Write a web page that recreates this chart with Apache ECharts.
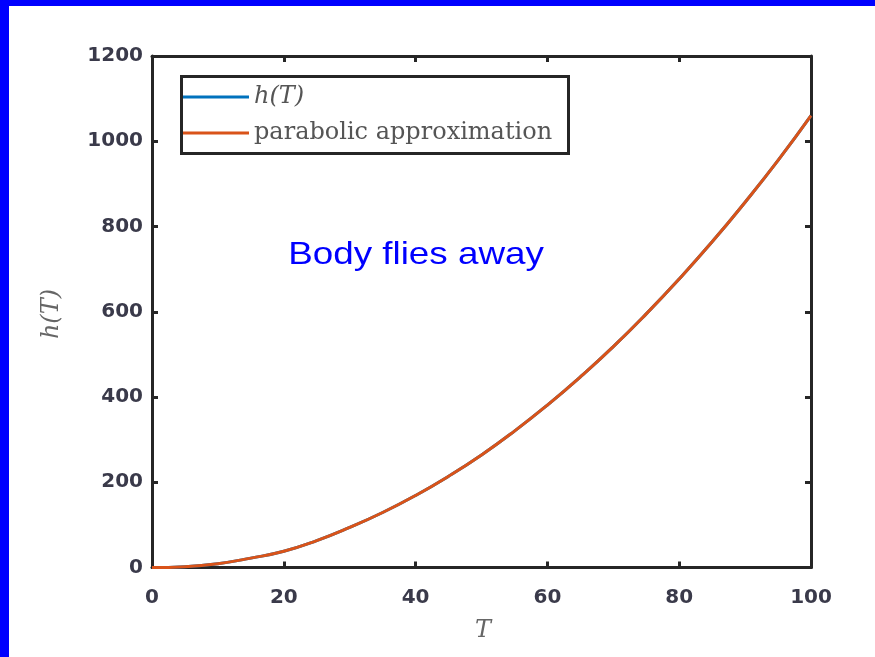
<!DOCTYPE html>
<html>
<head>
<meta charset="utf-8">
<script src="https://cdn.jsdelivr.net/npm/echarts@6/dist/echarts.min.js"></script>
<style>
html,body{margin:0;padding:0;background:#fff;}
#c{width:875px;height:657px;}
</style>
</head>
<body>
<div id="c"></div>
<script>
const T = [0,5,10,15,20,25,30,35,40,45,50,55,60,65,70,75,80,85,90,95,100];
const hT = [0,2,9,22,38,63,94,129,169,214,264,320,381,447,518,595,677,764,857,955,1060];
const parabolic = [0,2,9,22,38,63,94,129,169,214,264,320,381,447,518,595,677,764,857,955,1060];
const xTicks = [0,20,40,60,80,100];
const yTicks = [0,200,400,600,800,1000,1200];
const seriesNames = ['h(T)','parabolic approximation'];

const chart = echarts.init(document.getElementById('c'));
const axisCol = '#262626';
const tickLabel = {fontFamily:'DejaVu Sans', fontWeight:'bold', fontSize:20, color:'#3a3a4a', formatter:function(v){return String(v);}};
function baseX(pos, show){
  return {type:'value', min:xTicks[0], max:xTicks[xTicks.length-1], interval:20, position:pos,
    axisLine:{show:true, onZero:false, lineStyle:{color:axisCol, width:3}},
    axisTick:{show:true, inside:true, length:6, lineStyle:{color:axisCol, width:3}},
    axisLabel:Object.assign({show:show, margin:20}, tickLabel),
    splitLine:{show:false}};
}
function baseY(pos, show){
  return {type:'value', min:yTicks[0], max:yTicks[yTicks.length-1], interval:200, position:pos,
    axisLine:{show:true, onZero:false, lineStyle:{color:axisCol, width:3}},
    axisTick:{show:true, inside:true, length:6, lineStyle:{color:axisCol, width:3}},
    axisLabel:Object.assign({show:show, margin:9}, tickLabel),
    splitLine:{show:false}};
}
chart.setOption({
  animation:false,
  backgroundColor:'#fff',
  grid:{left:152, right:64, top:56, bottom:89.5, containLabel:false},
  xAxis:[baseX('bottom', true), baseX('top', false)],
  yAxis:[baseY('left', true), baseY('right', false)],
  legend:{
    orient:'vertical', left:183, top:85, padding:0, itemGap:12,
    itemWidth:66, itemHeight:3, icon:'rect',
    data:seriesNames,
    formatter: function(n){ return n===seriesNames[0] ? '{i|'+n+'}' : '{n|'+n+'}'; },
    textStyle:{
      color:'#555', padding:[0,0,0,0],
      rich:{
        i:{fontFamily:'DejaVu Serif', fontStyle:'italic', fontSize:24, lineHeight:24, color:'#555'},
        n:{fontFamily:'DejaVu Serif', fontSize:24, lineHeight:24, color:'#555'}
      }
    }
  },
  series:[
    {name:seriesNames[0], type:'line', data:T.map((t,i)=>[t,hT[i]]), showSymbol:false, smooth:true,
      lineStyle:{color:'#0072BD', width:3}, itemStyle:{color:'#0072BD'}, z:3},
    {name:seriesNames[1], type:'line', data:T.map((t,i)=>[t,parabolic[i]]), showSymbol:false, smooth:true,
      lineStyle:{color:'#D95319', width:3}, itemStyle:{color:'#D95319'}, z:4}
  ],
  graphic:[
    {type:'rect', shape:{x:0,y:0,width:875,height:6}, style:{fill:'#0000ff'}, z:100},
    {type:'rect', shape:{x:0,y:0,width:9,height:657}, style:{fill:'#0000ff'}, z:100},
    {type:'rect', shape:{x:181.5,y:76.5,width:387,height:77}, style:{fill:'none', stroke:axisCol, lineWidth:3}, z:50},
    {type:'text', x:416, y:255, scaleX:1.15, style:{text:'Body flies away', fontFamily:'Liberation Sans', fontSize:32, fill:'#0000ff', textAlign:'center', textVerticalAlign:'middle'}, z:50},
    {type:'text', x:52, y:314, rotation:Math.PI/2, style:{text:'h(T)', fontFamily:'DejaVu Serif', fontStyle:'italic', fontSize:24, fill:'#666', textAlign:'center', textVerticalAlign:'middle'}, z:50},
    {type:'text', x:483, y:631, style:{text:'T', fontFamily:'DejaVu Serif', fontStyle:'italic', fontSize:24, fill:'#666', textAlign:'center', textVerticalAlign:'middle'}, z:50}
  ]
});
</script>
</body>
</html>
